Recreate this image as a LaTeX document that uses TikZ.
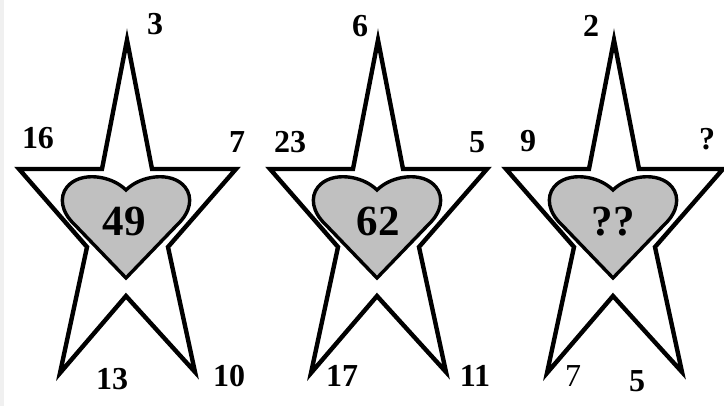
\documentclass[tikz,border=0pt]{standalone}
\usepackage{fontspec}
\setmainfont{Liberation Serif}
\definecolor{HeartGray}{RGB}{192,192,192}
\definecolor{EdgeGray}{RGB}{240,240,240}

\begin{document}
\begin{tikzpicture}[
    x=1pt, y=-1pt,
    starline/.style={draw=black, line width=4.4pt, fill=white, line join=miter},
    heartline/.style={draw=black, line width=3.4pt, fill=HeartGray},
    num/.style={font=\fontsize{32}{32}\selectfont\bfseries, inner sep=0pt},
    numthin/.style={font=\fontsize{32}{32}\selectfont, inner sep=0pt},
    big/.style={font=\fontsize{43}{43}\selectfont\bfseries, inner sep=0pt}
  ]
    \useasboundingbox (0,0) rectangle (724,406);
    \fill[EdgeGray] (0,0) rectangle (4,406);

    % Stars with hearts
    \foreach \dx in {0, 251, 487} {
      \begin{scope}[shift={(\dx,0)}]
        \draw[starline] (127,40) -- (152,169) -- (236,169) -- (168,247) -- (195,372)
          -- (126,296) -- (60,373) -- (87,247) -- (19,169) -- (102,169) -- cycle;
        \draw[heartline] (126,190) .. controls (111,175) and (80,171) .. (67,187)
          .. controls (59,197) and (61,212) .. (75,225) -- (126,278) -- (177,225)
          .. controls (191,212) and (193,197) .. (185,187)
          .. controls (172,171) and (141,175) .. (126,190) -- cycle;
      \end{scope}
    }

    % Star 1
    \node[num] (atop) at (155,24) {3};
    \node[num] (aleft) at (38,138) {16};
    \node[num] (aright) at (237,142) {7};
    \node[num] (abl) at (112,379) {13};
    \node[num] (abr) at (229,376) {10};
    \node[big] (amid) at (124,221) {49};

    % Star 2
    \node[num] (btop) at (360,26) {6};
    \node[num] (bleft) at (290,142) {23};
    \node[num] (bright) at (477,142) {5};
    \node[num] (bbl) at (342,376) {17};
    \node[num] (bbr) at (475,376) {11};
    \node[big] (bmid) at (378,221) {62};

    % Star 3
    \node[num] (ctop) at (591,26) {2};
    \node[num] (cleft) at (528,141) {9};
    \node[num] (cright) at (707,139) {?};
    \node[numthin] (cbl) at (573,376) {7};
    \node[num] (cbr) at (637,381) {5};
    \node[big] (cmid) at (613,222) {??};
\end{tikzpicture}
\end{document}
